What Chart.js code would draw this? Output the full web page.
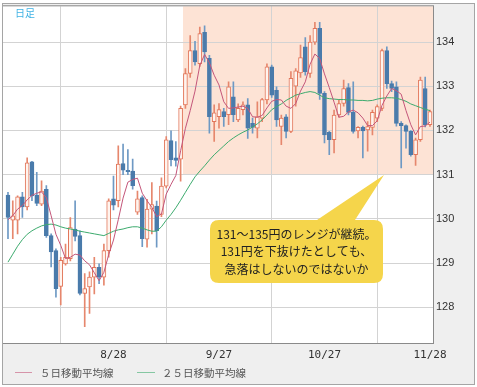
<!DOCTYPE html>
<html><head><meta charset="utf-8">
<script src="https://cdn.jsdelivr.net/npm/chart.js@4.4.0/dist/chart.umd.min.js"></script>
<style>html,body{margin:0;padding:0;background:#fff;}canvas{display:block;}</style>
</head><body>
<canvas id="c" width="477" height="387"></canvas>
<script>
// trading-day index (0 .. 88)
const days = Array.from({length: 89}, (_, i) => i);
const tickDays = [0, 22, 44, 66, 88];
const tickLabels = ['', '8/28', '9/27', '10/27', '11/28'];
const priceTicks = [128, 129, 130, 131, 132, 133, 134];

const open = [130.54,129.97,129.97,130.5,130.27,131.29,130.54,130.33,130.67,129.62,
129.28,128.47,128.98,129.1,129.77,129.62,128.31,128.46,128.68,128.9,
128.68,129.28,130.45,130.41,131.25,131.1,131.08,130.15,130.48,129.54,
130.22,130.29,130.1,130.74,131.77,131.38,131.35,132.58,133.29,133.81,
133.51,134.22,133.63,132.2,132.31,132.43,132.36,132.76,132.24,132.47,
132.58,132.16,132.05,132.28,132.69,133.44,132.91,132.09,132.31,131.98,
133.0,133.3,133.89,133.29,134.0,134.31,132.84,131.96,131.79,132.35,
132.61,132.97,132.41,131.99,132.07,132.01,132.07,132.28,132.5,133.81,
133.06,132.99,132.16,132.11,131.98,131.45,131.79,132.95,132.13];
const high = [130.6,130.41,130.52,130.6,131.38,131.3,131.05,130.86,130.75,129.66,
129.32,129.13,129.43,130.03,130.41,129.73,128.76,128.8,129.13,128.98,
129.43,130.45,130.97,131.65,131.69,131.57,131.35,130.63,130.52,130.44,
130.82,130.4,130.93,131.86,131.99,131.75,132.55,133.4,134.15,134.02,
134.34,134.37,133.7,132.58,132.61,132.5,133.1,133.1,132.6,132.65,
132.72,132.28,132.65,132.73,133.51,133.48,132.99,132.35,132.36,133.33,
133.4,133.93,134.1,134.15,134.45,134.45,132.88,131.98,132.46,132.69,
133.14,133.06,133.1,132.09,132.1,132.2,132.46,132.58,133.84,133.89,
133.12,133.1,132.2,132.13,132.0,131.83,133.21,133.21,132.46];
const low = [129.55,129.55,129.66,130.03,130.2,130.41,130.3,130.3,129.58,128.91,
128.23,128.05,128.95,129.05,129.5,128.28,127.56,127.86,128.3,128.53,
128.5,129.13,130.2,130.27,131.0,131.0,130.67,130.1,129.37,129.36,
129.66,129.36,130.05,130.7,131.2,131.19,130.85,132.5,133.2,133.48,
133.45,133.55,131.94,131.75,132.05,132.09,132.13,132.2,132.2,132.35,
131.82,131.94,131.83,132.2,132.6,132.75,132.09,131.68,131.83,131.95,
132.55,133.2,133.25,133.2,133.95,132.7,131.72,131.45,131.49,132.3,
132.55,132.35,131.94,131.83,131.38,131.53,131.9,132.2,132.45,132.95,
132.88,132.1,131.15,131.6,131.42,131.21,131.75,132.08,132.09];
const close = [130.03,130.07,130.5,130.27,131.27,130.52,130.35,130.63,129.62,129.25,
128.42,129.06,129.13,129.8,129.6,128.31,128.42,128.68,128.9,128.68,
129.28,130.41,130.31,131.24,131.1,131.07,130.75,130.45,129.55,130.22,
130.32,129.73,130.74,131.79,131.34,131.32,132.5,133.29,133.81,133.55,
134.19,133.78,132.31,132.4,132.47,132.31,132.99,132.36,132.5,132.58,
132.05,132.07,132.31,132.7,133.44,132.8,132.24,132.28,131.98,133.18,
133.35,133.65,133.33,134.0,134.31,132.84,131.9,131.79,132.35,132.61,
132.95,132.41,131.98,132.07,131.99,132.09,132.41,132.54,133.81,133.06,
132.95,132.16,132.11,131.98,131.45,131.79,133.14,132.13,132.43];
const ma5 = [129.98,130.07,130.22,130.3,130.43,130.53,130.58,130.61,130.48,130.07,
129.65,129.4,129.1,129.13,129.2,129.18,129.05,128.96,128.78,128.6,
128.79,129.19,129.52,129.98,130.47,130.83,130.89,130.92,130.58,130.41,
130.26,130.05,130.11,130.56,130.78,130.98,131.54,132.05,132.45,132.89,
133.47,133.72,133.53,133.25,133.03,132.65,132.5,132.51,132.53,132.55,
132.5,132.31,132.3,132.34,132.51,132.66,132.7,132.69,132.55,132.5,
132.61,132.89,133.1,133.5,133.73,133.63,133.28,132.97,132.64,132.3,
132.32,132.42,132.46,132.4,132.28,132.11,132.11,132.22,132.57,132.78,
132.95,132.9,132.82,132.45,132.13,131.9,132.09,132.1,132.19];
const ma25 = [129.02,129.2,129.38,129.53,129.65,129.73,129.79,129.84,129.87,129.88,
129.86,129.82,129.79,129.77,129.75,129.72,129.7,129.68,129.66,129.64,
129.62,129.67,129.72,129.75,129.77,129.8,129.82,129.82,129.79,129.75,
129.72,129.72,129.82,129.97,130.1,130.25,130.42,130.6,130.78,130.95,
131.08,131.2,131.33,131.45,131.55,131.65,131.75,131.83,131.9,131.96,
132.01,132.08,132.15,132.24,132.35,132.47,132.54,132.6,132.68,132.74,
132.8,132.83,132.86,132.88,132.86,132.8,132.74,132.72,132.71,132.7,
132.7,132.69,132.69,132.68,132.68,132.67,132.68,132.71,132.73,132.74,
132.74,132.73,132.7,132.66,132.6,132.56,132.52,132.48,132.45];

const seriesNames = ['５日移動平均線', '２５日移動平均線'];
const rangeBand = {fromDay: 36.5, low: 131, high: 135};
const calloutLines = ['131～135円のレンジが継続。', '131円を下抜けたとしても、', '急落はしないのではないか'];
const periodLabel = '日足';

const UP_LINE = '#e2765a', UP_FILL = '#fff4ee', UP_WICK = '#e6876d';
const DN_FILL = '#4a7bab', DN_WICK = '#6e99c4';
const isUp = i => close[i] >= open[i];

const decor = {
  id: 'decor',
  beforeDraw(chart) {
    const {ctx, chartArea: a, scales: {x, y}} = chart;
    ctx.save();
    ctx.fillStyle = '#ffffff';
    ctx.fillRect(0, 0, chart.width, chart.height);
    ctx.fillStyle = '#efefef';
    ctx.fillRect(3, 4, 471, 380);
    ctx.fillStyle = '#ffffff';
    ctx.fillRect(a.left, a.top, a.right - a.left, a.bottom - a.top);
    const sx = x.getPixelForValue(rangeBand.fromDay);
    const sy = Math.max(a.top, y.getPixelForValue(rangeBand.high));
    const ey = y.getPixelForValue(rangeBand.low);
    ctx.fillStyle = '#fde3d5';
    ctx.fillRect(sx, sy, a.right - sx, ey - sy);
    ctx.restore();
  },
  afterDraw(chart) {
    const {ctx, chartArea: a} = chart;
    ctx.save();
    // callout
    ctx.fillStyle = '#f5d54b';
    const bx = 210, by = 220, bw = 173, bh = 63, r = 9;
    ctx.beginPath();
    ctx.moveTo(bx + r, by);
    ctx.lineTo(317, by);
    ctx.lineTo(384, 175);
    ctx.lineTo(355, by);
    ctx.lineTo(bx + bw - r, by);
    ctx.quadraticCurveTo(bx + bw, by, bx + bw, by + r);
    ctx.lineTo(bx + bw, by + bh - r);
    ctx.quadraticCurveTo(bx + bw, by + bh, bx + bw - r, by + bh);
    ctx.lineTo(bx + r, by + bh);
    ctx.quadraticCurveTo(bx, by + bh, bx, by + bh - r);
    ctx.lineTo(bx, by + r);
    ctx.quadraticCurveTo(bx, by, bx + r, by);
    ctx.closePath();
    ctx.fill();
    ctx.fillStyle = '#222';
    ctx.font = '12px "Noto Sans CJK JP"';
    ctx.textAlign = 'center';
    ctx.textBaseline = 'middle';
    calloutLines.forEach((t, k) => ctx.fillText(t, 296.5, 234 + k * 17.5));
    // period label
    ctx.fillStyle = '#3fb2e4';
    ctx.font = '10px "Noto Sans CJK JP"';
    ctx.textAlign = 'left';
    ctx.fillText(periodLabel, 15, 13);
    // borders
    ctx.strokeStyle = '#8a8a8a';
    ctx.lineWidth = 1;
    ctx.strokeRect(a.left - 0.5, a.top - 0.5, a.right - a.left + 1, a.bottom - a.top + 1);
    ctx.strokeStyle = '#a5a5a5';
    ctx.strokeRect(2.5, 3.5, 472, 381);
    // legend
    const ds = chart.data.datasets;
    ctx.font = '10.5px "Noto Sans CJK JP"';
    ctx.textBaseline = 'middle';
    const items = [[15, 32, 40], [137, 155, 162]];
    items.forEach(([l0, l1, tx], k) => {
      ctx.strokeStyle = ds[k].borderColor;
      ctx.globalAlpha = 0.6;
      ctx.beginPath(); ctx.moveTo(l0, 372.5); ctx.lineTo(l1, 372.5); ctx.stroke();
      ctx.globalAlpha = 1;
      ctx.fillStyle = '#555';
      ctx.fillText(ds[k].label, tx, 373);
    });
    ctx.restore();
  }
};

new Chart(document.getElementById('c'), {
  type: 'bar',
  data: {
    datasets: [
      {type: 'line', label: seriesNames[0], data: days.map((d, i) => ({x: d, y: ma5[i]})),
       borderColor: '#c4567a', borderWidth: 1, pointRadius: 0, tension: 0, order: 0},
      {type: 'line', label: seriesNames[1], data: days.map((d, i) => ({x: d, y: ma25[i]})),
       borderColor: '#3dab6e', borderWidth: 1, pointRadius: 0, tension: 0, order: 0},
      {label: 'body', data: days.map((d, i) => ({x: d, y: [open[i], close[i]]})),
       backgroundColor: c => (c.dataIndex !== undefined && !isUp(c.dataIndex)) ? DN_FILL : UP_FILL,
       borderColor: c => (c.dataIndex !== undefined && !isUp(c.dataIndex)) ? DN_FILL : UP_LINE,
       borderWidth: 1, borderSkipped: false, barThickness: 4, grouped: false, order: 1},
      {label: 'wick', data: days.map((d, i) => ({x: d, y: [low[i], high[i]]})),
       backgroundColor: c => (c.dataIndex !== undefined && !isUp(c.dataIndex)) ? DN_WICK : UP_WICK,
       borderWidth: 0, barThickness: 1, grouped: false, order: 2}
    ]
  },
  options: {
    responsive: false, animation: false, devicePixelRatio: 1,
    layout: {padding: {left: 3, top: 4, right: 0, bottom: 0}},
    plugins: {legend: {display: false}, tooltip: {enabled: false}},
    scales: {
      x: {
        type: 'linear', min: -1.04, max: 88.63, offset: false, position: 'bottom',
        afterBuildTicks: s => { s.ticks = tickDays.map(v => ({value: v})); },
        afterFit: s => { s.height = 44; },
        grid: {color: c => (c.tick && c.tick.value === 0) ? '#e6e6e6' : '#d3d3d3', drawTicks: false},
        border: {display: false},
        ticks: {autoSkip: false, maxRotation: 0, padding: 6, color: '#333',
          font: {family: 'DejaVu Sans Mono', size: 11},
          callback: v => { const k = tickDays.indexOf(v); return k >= 0 ? tickLabels[k] : ''; }}
      },
      y: {
        type: 'linear', position: 'right', min: 127.19, max: 134.81,
        afterBuildTicks: s => { s.ticks = priceTicks.map(v => ({value: v})); },
        afterFit: s => { s.width = 44; },
        grid: {color: '#d3d3d3', drawTicks: false},
        border: {display: false},
        ticks: {padding: 3, color: '#333', font: {family: 'Liberation Sans', size: 11, lineHeight: 0.6},
          callback: v => String(v)}
      }
    }
  },
  plugins: [decor]
});
</script>
</body></html>
